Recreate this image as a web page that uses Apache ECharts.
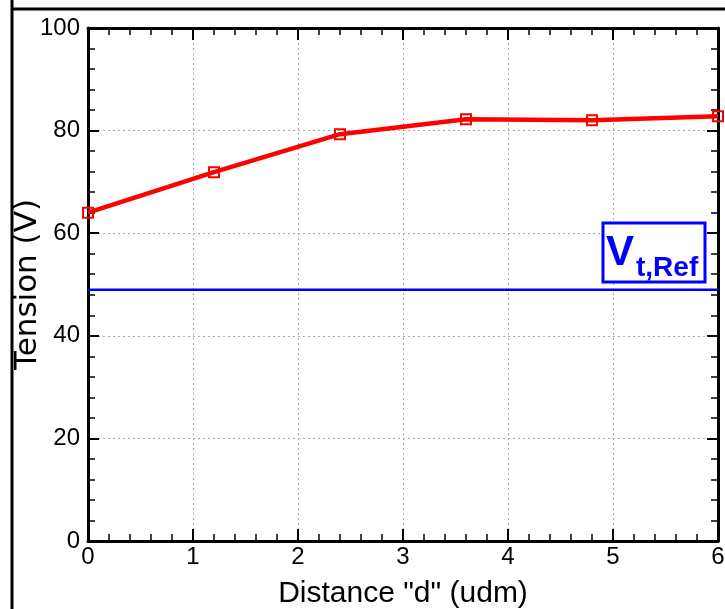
<!DOCTYPE html>
<html><head><meta charset="utf-8">
<script src="https://cdn.jsdelivr.net/npm/echarts@6/dist/echarts.min.js"></script>
<style>html,body{margin:0;padding:0;background:#fff}#c{width:725px;height:609px}</style>
</head><body><div id="c"></div>
<script>
var distances = [0, 1.2, 2.4, 3.6, 4.8, 6];
var tension = [64.0, 71.9, 79.3, 82.2, 82.0, 82.8];
var refValue = 49;
var refLabel = ['V', 't,Ref'];
var xName = 'Distance "d" (udm)';
var yName = 'Tension (V)';

var FONT = '"Liberation Sans", Arial, sans-serif';
var FONT_Y = '"DejaVu Sans", sans-serif';
var chart = echarts.init(document.getElementById('c'), null, {renderer: 'canvas'});
var gridRect = {left: 88, right: 7, top: 28, bottom: 68, containLabel: false, outerBoundsMode: 'none'};

function mkAxis(type, gridIndex, pos, min, max, interval, len, showLine) {
  return {
    type: 'value', gridIndex: gridIndex, position: pos, min: min, max: max, interval: interval,
    axisLine: {show: showLine, onZero: false, lineStyle: {color: '#000', width: 3}},
    axisTick: {show: true, inside: true, length: len, lineStyle: {color: '#000', width: showLine ? 2 : 1.5}},
    minorTick: {show: false},
    axisLabel: {show: false},
    splitLine: {show: false}
  };
}

var xMain = mkAxis('x', 0, 'bottom', 0, 6, 1, 12, true);
xMain.name = xName; xMain.nameLocation = 'middle'; xMain.nameGap = 38;
xMain.nameTextStyle = {fontFamily: FONT, fontSize: 30, color: '#000'};
xMain.axisLabel = {show: true, fontFamily: FONT, fontSize: 24, color: '#000', margin: 4};
xMain.splitLine = {show: true, lineStyle: {color: '#aaa', type: [2, 3], width: 1}};
var xTop = mkAxis('x', 0, 'top', 0, 6, 1, 12, true);

var yMain = mkAxis('y', 0, 'left', 0, 100, 20, 11, true);
yMain.name = yName; yMain.nameLocation = 'middle'; yMain.nameGap = 45; yMain.nameMoveOverlap = false;
yMain.nameTextStyle = {fontFamily: FONT_Y, fontSize: 31, color: '#000'};
yMain.axisLabel = {show: true, fontFamily: FONT, fontSize: 24, color: '#000', margin: 8};
yMain.splitLine = {show: true, lineStyle: {color: '#aaa', type: [2, 3], width: 1}};
var yRight = mkAxis('y', 0, 'right', 0, 100, 20, 11, true);

var option = {
  animation: false,
  backgroundColor: '#fff',
  grid: [Object.assign({}, gridRect), Object.assign({}, gridRect)],
  xAxis: [xMain, xTop,
    mkAxis('x', 1, 'bottom', 0, 6, 0.2, 7, false),
    mkAxis('x', 1, 'top', 0, 6, 0.2, 7, false)],
  yAxis: [yMain, yRight,
    mkAxis('y', 1, 'left', 0, 100, 4, 7, false),
    mkAxis('y', 1, 'right', 0, 100, 4, 7, false)],
  series: [
    {
      type: 'line', xAxisIndex: 0, yAxisIndex: 0,
      data: [[0, refValue], [6, refValue]],
      symbol: 'none', lineStyle: {color: '#0000ff', width: 2.5}, z: 3
    },
    {
      type: 'line', xAxisIndex: 0, yAxisIndex: 0,
      data: distances.map(function (d, i) { return [d, tension[i]]; }),
      symbol: 'rect', symbolSize: 10, showSymbol: true,
      itemStyle: {color: 'none', borderColor: '#ff0000', borderWidth: 2},
      lineStyle: {color: '#ff0000', width: 4.5}, z: 4
    }
  ],
  graphic: [
    {type: 'line', shape: {x1: 12, y1: 0, x2: 12, y2: 609}, style: {stroke: '#000', lineWidth: 3}},
    {type: 'line', shape: {x1: 12, y1: 9, x2: 725, y2: 9}, style: {stroke: '#000', lineWidth: 3}},
    {type: 'rect', shape: {x: 603, y: 223, width: 102, height: 59}, style: {fill: '#fff', stroke: '#0000ff', lineWidth: 3}, z: 10},
    {type: 'text', x: 606, y: 253, z: 11,
      style: {text: refLabel[0], fontFamily: FONT, fontSize: 42, fontWeight: 'bold', fill: '#0000ff', verticalAlign: 'middle'}},
    {type: 'text', x: 636, y: 268, z: 11,
      style: {text: refLabel[1], fontFamily: FONT, fontSize: 28, fontWeight: 'bold', fill: '#0000ff', verticalAlign: 'middle'}}
  ]
};
chart.setOption(option);
</script></body></html>
